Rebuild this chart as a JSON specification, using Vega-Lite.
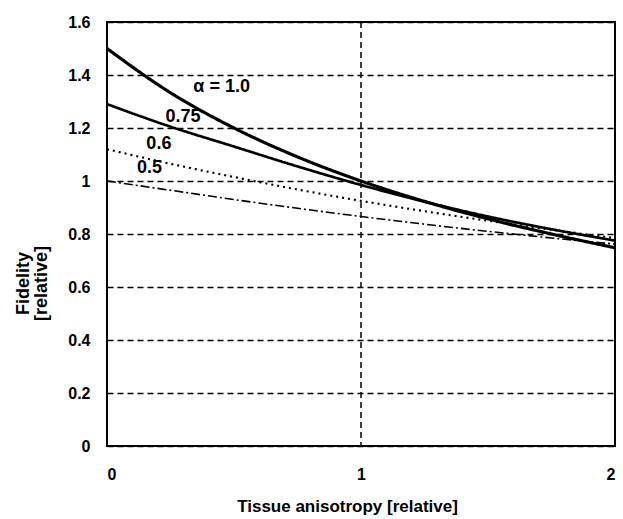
{
  "$schema": "https://vega.github.io/schema/vega-lite/v6.json",
  "autosize": "none",
  "width": 508,
  "height": 424,
  "padding": {"left": 107, "top": 22, "right": 8, "bottom": 73},
  "background": "white",
  "config": {
    "view": {"stroke": "black", "strokeWidth": 2},
    "font": "Liberation Sans"
  },
  "datasets": {
    "curves": [
      {"x": 0, "y": 1.5, "s": "1.0"}, {"x": 0.25, "y": 1.333, "s": "1.0"}, {"x": 0.5, "y": 1.2, "s": "1.0"}, {"x": 0.75, "y": 1.091, "s": "1.0"}, {"x": 1, "y": 1.0, "s": "1.0"}, {"x": 1.25, "y": 0.923, "s": "1.0"}, {"x": 1.5, "y": 0.857, "s": "1.0"}, {"x": 1.75, "y": 0.8, "s": "1.0"}, {"x": 2, "y": 0.748, "s": "1.0"},
      {"x": 0, "y": 1.29, "s": "0.75"}, {"x": 0.25, "y": 1.205, "s": "0.75"}, {"x": 0.5, "y": 1.13, "s": "0.75"}, {"x": 0.75, "y": 1.055, "s": "0.75"}, {"x": 1, "y": 0.985, "s": "0.75"}, {"x": 1.25, "y": 0.922, "s": "0.75"}, {"x": 1.5, "y": 0.866, "s": "0.75"}, {"x": 1.75, "y": 0.818, "s": "0.75"}, {"x": 2, "y": 0.775, "s": "0.75"},
      {"x": 0, "y": 1.12, "s": "0.6"}, {"x": 0.25, "y": 1.065, "s": "0.6"}, {"x": 0.5, "y": 1.015, "s": "0.6"}, {"x": 0.75, "y": 0.968, "s": "0.6"}, {"x": 1, "y": 0.925, "s": "0.6"}, {"x": 1.25, "y": 0.886, "s": "0.6"}, {"x": 1.5, "y": 0.85, "s": "0.6"}, {"x": 1.75, "y": 0.816, "s": "0.6"}, {"x": 2, "y": 0.785, "s": "0.6"},
      {"x": 0, "y": 1.0, "s": "0.5"}, {"x": 0.25, "y": 0.965, "s": "0.5"}, {"x": 0.5, "y": 0.93, "s": "0.5"}, {"x": 0.75, "y": 0.897, "s": "0.5"}, {"x": 1, "y": 0.866, "s": "0.5"}, {"x": 1.25, "y": 0.837, "s": "0.5"}, {"x": 1.5, "y": 0.81, "s": "0.5"}, {"x": 1.75, "y": 0.785, "s": "0.5"}, {"x": 2, "y": 0.762, "s": "0.5"}
    ],
    "labels": [
      {"x": 0.34, "y": 1.355, "t": "α   = 1.0"},
      {"x": 0.23, "y": 1.24, "t": "0.75"},
      {"x": 0.155, "y": 1.138, "t": "0.6"},
      {"x": 0.118, "y": 1.05, "t": "0.5"}
    ],
    "vgrid": [{"x": 1}]
  },
  "layer": [
    {
      "data": {"name": "vgrid"},
      "mark": {"type": "rule", "color": "black", "strokeDash": [6, 4], "strokeWidth": 1.5},
      "encoding": {
        "x": {
          "field": "x", "type": "quantitative",
          "scale": {"domain": [0, 2], "nice": false},
          "axis": {
            "values": [0, 1, 2], "format": ".1~f",
            "grid": false,
            "domain": false, "ticks": false,
            "labelFont": "Liberation Sans", "labelFontWeight": "bold", "labelFontSize": 16, "labelColor": "black",
            "labelPadding": 20, "labelOverlap": false,
            "title": "Tissue anisotropy [relative]",
            "titleFont": "Liberation Sans", "titleFontWeight": "bold", "titleFontSize": 17, "titleColor": "black",
            "titleX": 240, "titleY": 60, "titleBaseline": "middle", "titleAlign": "center"
          }
        }
      }
    },
    {
      "data": {"name": "curves"},
      "mark": {"type": "line", "interpolate": "monotone", "color": "black", "clip": true},
      "encoding": {
        "x": {"field": "x", "type": "quantitative"},
        "y": {
          "field": "y", "type": "quantitative",
          "scale": {"domain": [0, 1.6], "nice": false},
          "axis": {
            "values": [0, 0.2, 0.4, 0.6, 0.8, 1, 1.2, 1.4, 1.6], "format": ".1~f",
            "grid": true, "gridColor": "black", "gridDash": [6, 4], "gridWidth": 1.5, "gridOpacity": 1,
            "domain": false, "ticks": false,
            "labelFont": "Liberation Sans", "labelFontWeight": "bold", "labelFontSize": 16, "labelColor": "black",
            "labelPadding": 17, "labelOverlap": false,
            "title": ["Fidelity", "[relative]"],
            "titleFont": "Liberation Sans", "titleFontWeight": "bold", "titleFontSize": 18, "titleColor": "black",
            "titleLineHeight": 18,
            "titleAngle": -90, "titleX": -93, "titleY": 261, "titleBaseline": "top", "titleAlign": "center"
          }
        },
        "detail": {"field": "s"},
        "strokeDash": {
          "field": "s", "type": "nominal",
          "scale": {"domain": ["1.0", "0.75", "0.6", "0.5"], "range": [[1, 0], [1, 0], [2, 4], [9, 3, 2, 3]]},
          "legend": null
        },
        "strokeWidth": {
          "field": "s", "type": "nominal",
          "scale": {"domain": ["1.0", "0.75", "0.6", "0.5"], "range": [3.2, 1.6, 2, 1.6]},
          "legend": null
        }
      }
    },
    {
      "data": {"name": "labels"},
      "mark": {"type": "text", "align": "left", "baseline": "middle", "font": "Liberation Sans", "fontWeight": "bold", "fontSize": 18, "color": "black"},
      "encoding": {
        "x": {"field": "x", "type": "quantitative"},
        "y": {"field": "y", "type": "quantitative"},
        "text": {"field": "t"}
      }
    }
  ]
}
